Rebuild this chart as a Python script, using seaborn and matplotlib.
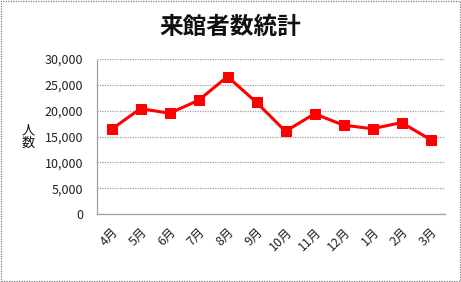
import matplotlib
matplotlib.use("Agg")
import matplotlib.pyplot as plt
import seaborn as sns
import pandas as pd
from matplotlib.patches import Rectangle
from matplotlib.ticker import FuncFormatter

months = ["4月", "5月", "6月", "7月", "8月", "9月", "10月", "11月", "12月", "1月", "2月", "3月"]
visitors = [16400, 20400, 19500, 22000, 26600, 21600, 16000, 19400, 17200, 16500, 17700, 14400]
yticks = [0, 5000, 10000, 15000, 20000, 25000, 30000]

sns.set_style("white")
plt.rcParams['font.family'] = ['Noto Sans CJK JP', 'DejaVu Sans']

df = pd.DataFrame({"month": months, "visitors": visitors})

fig = plt.figure(figsize=(4.61, 2.82), dpi=100)
ax = fig.add_axes([97/461, 1 - 214/282, 348/461, 155/282])

sns.lineplot(data=df, x="month", y="visitors", ax=ax, color="#FF0000", linewidth=2.2,
             marker="s", markersize=7.5, markeredgecolor="#FF0000", sort=False)

ax.set_xlim(-0.5, len(months) - 0.5)
ax.set_ylim(0, 30000)
ax.set_yticks(yticks)
ax.yaxis.set_major_formatter(FuncFormatter(lambda v, p: f"{int(v):,}"))
ax.grid(axis="y", color="#A0A0A0", linestyle=(0, (1, 1)), linewidth=0.9)
ax.grid(axis="x", visible=False)
for s in ["left", "bottom"]:
    ax.spines[s].set_color("#A0A0A0")
    ax.spines[s].set_linestyle((0, (1, 1)))
    ax.spines[s].set_linewidth(0.9)
for s in ["top", "right"]:
    ax.spines[s].set_visible(False)

ax.tick_params(axis="both", length=0, labelsize=9, colors="#222222")
ax.tick_params(axis="y", pad=10)
ax.tick_params(axis="x", pad=8)
for lbl in ax.get_xticklabels():
    lbl.set_rotation(45)
    lbl.set_ha("right")
    lbl.set_rotation_mode("anchor")

ax.set_xlabel("")
ax.set_ylabel("")
fig.text(28/461, 1 - 137/282, "人\n数", ha="center", va="center", fontsize=9.5, linespacing=1.0, color="#111111")
fig.text(230/461, 1 - 27/282, "来館者数統計", ha="center", va="center", fontsize=17, fontweight="bold", color="#111111")

fig.add_artist(Rectangle((0.002, 0.003), 0.995, 0.993, transform=fig.transFigure, fill=False,
                         edgecolor="#808080", linestyle=(0, (1, 1)), linewidth=0.9))

fig.savefig("out.png", dpi=100)
